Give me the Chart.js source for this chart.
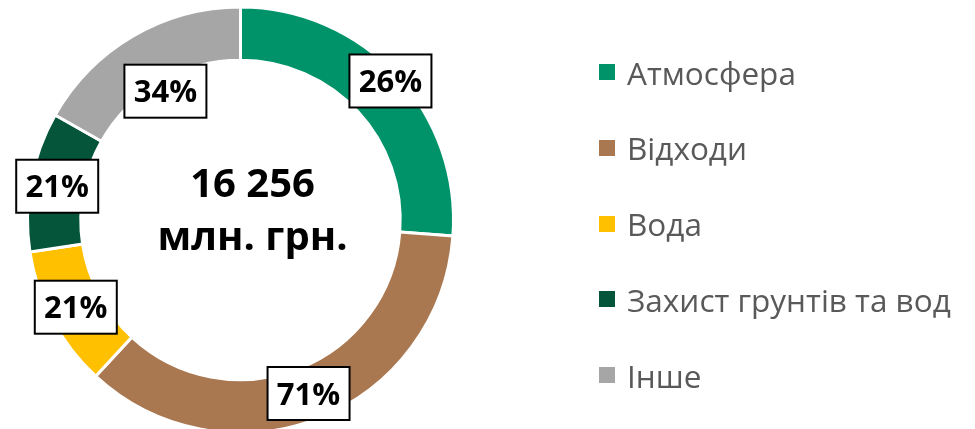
<!DOCTYPE html>
<html lang="uk">
<head>
<meta charset="utf-8">
<script src="https://cdn.jsdelivr.net/npm/chart.js@4.4.1/dist/chart.umd.min.js"></script>
<style>
  body { margin: 0; background: #fff; }
  #wrap { position: relative; width: 975px; height: 429px; overflow: hidden; }
  #legend { position: absolute; left: 599px; top: 0; font-family: "Open Sans"; font-size: 31.5px; color: #595959; }
  .item { position: absolute; left: 0; height: 40px; display: flex; align-items: center; white-space: nowrap; }
  .box { width: 16px; height: 16px; margin-right: 12px; flex: none; }
</style>
</head>
<body>
<div id="wrap">
  <canvas id="myChart" width="975" height="429"></canvas>
  <div id="legend"></div>
</div>
<script>
var labels = ["Атмосфера", "Відходи", "Вода", "Захист грунтів та вод", "Інше"];
var values = [4259, 5803, 1739, 1723, 2731];   // млн. грн.
var growthLabels = ["26%", "71%", "21%", "21%", "34%"];
var totalLine1 = "16 256";
var totalLine2 = "млн. грн.";

var colors = ["#00936A", "#A97850", "#FFC000", "#05553B", "#A6A6A6"];
// where each label box sits across the ring (0 = inner edge, 1 = outer edge)
var labelSpot = [0.84, 0.5, 0.5, 0.5, -0.2];

var labelPlugin = {
    id: "ringLabels",
    afterDatasetsDraw: function(chart){
        var ctx = chart.ctx;
        var arcs = chart.getDatasetMeta(0).data;
        var cx = arcs[0].x, cy = arcs[0].y;

        ctx.save();
        arcs.forEach(function(arc, i){
            var p = arc.getProps(["startAngle", "endAngle", "innerRadius", "outerRadius"], true);
            var mid = (p.startAngle + p.endAngle) / 2;
            var r = p.innerRadius + (p.outerRadius - p.innerRadius) * labelSpot[i];
            var x = cx + Math.cos(mid) * r;
            var y = cy + Math.sin(mid) * r;
            var w = 82, h = 53;
            ctx.fillStyle = "#fff";
            ctx.fillRect(x - w / 2, y - h / 2, w, h);
            ctx.strokeStyle = "#000";
            ctx.lineWidth = 2;
            ctx.strokeRect(x - w / 2, y - h / 2, w, h);
            ctx.fillStyle = "#000";
            ctx.font = "bold 31px 'Open Sans'";
            ctx.textAlign = "center";
            ctx.textBaseline = "alphabetic";
            ctx.fillText(growthLabels[i], x, y + 11);
        });

        ctx.fillStyle = "#000";
        ctx.font = "bold 40px 'Open Sans'";
        ctx.textAlign = "center";
        ctx.fillText(totalLine1, cx + 12, cy - 23);
        ctx.fillText(totalLine2, cx + 12, cy + 30);
        ctx.restore();
    }
};

var ctx = document.getElementById("myChart").getContext("2d");

var myChart = new Chart(ctx, {
    type: "doughnut",
    data: {
        labels: labels,
        datasets: [{
            data: values,
            backgroundColor: colors,
            borderColor: "#fff",
            borderWidth: 3,
            clip: false
        }]
    },
    options: {
        responsive: false,
        devicePixelRatio: 1,
        animation: false,
        radius: 213,
        cutout: "75%",
        layout: { padding: { left: 0, right: 494, top: 11, bottom: 0 } },
        plugins: {
            legend: { display: false },
            tooltip: { enabled: false }
        }
    },
    plugins: [labelPlugin]
});

// legend on the right
var legend = document.getElementById("legend");
labels.forEach(function(name, i){
    var row = document.createElement("div");
    row.className = "item";
    row.style.top = (72 + i * 75.75 - 20) + "px";
    var box = document.createElement("span");
    box.className = "box";
    box.style.background = colors[i];
    var txt = document.createElement("span");
    txt.textContent = name;
    row.appendChild(box);
    row.appendChild(txt);
    legend.appendChild(row);
});
</script>
</body>
</html>
